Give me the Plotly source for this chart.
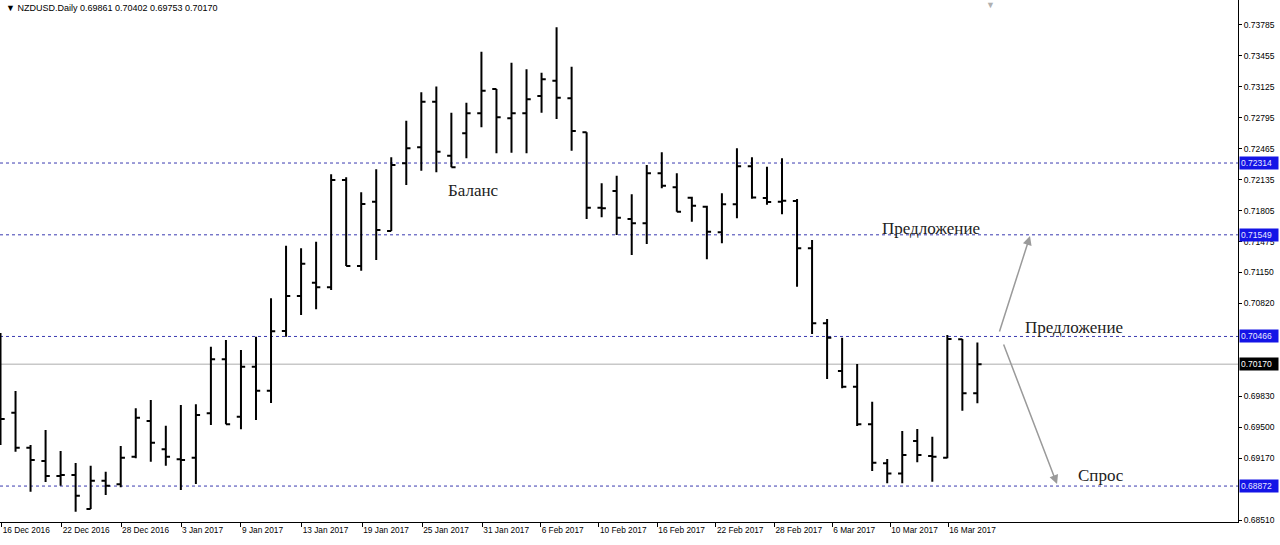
import plotly.graph_objects as go

# ---------------- data ----------------
opens = [0.70380, 0.69653, 0.69280, 0.69139, 0.68979, 0.68989, 0.68627, 0.68929, 0.68890, 0.69184,
         0.69565, 0.69263, 0.69157, 0.69174, 0.69647, 0.70222, 0.69611, 0.70144, 0.69888, 0.70524,
         0.70897, 0.71039, 0.70990, 0.72133, 0.71217, 0.71902, 0.71590, 0.72311, 0.72482, 0.72968,
         0.72392, 0.72631, 0.72844, 0.73103, 0.72791, 0.72844, 0.73028, 0.73191, 0.73004, 0.72642,
         0.71838, 0.72016, 0.71718, 0.71672, 0.72205, 0.72055, 0.71945, 0.71849, 0.71576, 0.71874,
         0.72279, 0.71941, 0.71900, 0.71909, 0.71405, 0.70606, 0.70098, 0.69930, 0.69530, 0.69114,
         0.69007, 0.69352, 0.69192, 0.69174, 0.70436, 0.69861]
highs = [0.70503, 0.69885, 0.69309, 0.69469, 0.69245, 0.69117, 0.69088, 0.69025, 0.69298, 0.69700,
         0.69789, 0.69515, 0.69735, 0.69743, 0.70357, 0.70428, 0.70321, 0.70463, 0.70872, 0.71433,
         0.71405, 0.71476, 0.72194, 0.72162, 0.72002, 0.72247, 0.72375, 0.72765, 0.73068, 0.73128,
         0.72850, 0.72957, 0.73500, 0.73103, 0.73383, 0.73313, 0.73277, 0.73761, 0.73341, 0.72642,
         0.72098, 0.72179, 0.71981, 0.72293, 0.72428, 0.72205, 0.71955, 0.71859, 0.71991, 0.72471,
         0.72375, 0.72275, 0.72364, 0.71931, 0.71494, 0.70652, 0.70453, 0.70172, 0.69771, 0.69160,
         0.69458, 0.69480, 0.69398, 0.70481, 0.70439, 0.70402]
lows = [0.69309, 0.69238, 0.68811, 0.68915, 0.68875, 0.68598, 0.68627, 0.68776, 0.68858, 0.69167,
        0.69131, 0.69088, 0.68830, 0.68893, 0.69522, 0.69530, 0.69476, 0.69576, 0.69757, 0.70463,
        0.70695, 0.70755, 0.70961, 0.71217, 0.71167, 0.71281, 0.71590, 0.72080, 0.72232, 0.72215,
        0.72269, 0.72364, 0.72695, 0.72418, 0.72424, 0.72418, 0.72850, 0.72783, 0.72445, 0.71718,
        0.71736, 0.71547, 0.71334, 0.71451, 0.72045, 0.71795, 0.71689, 0.71288, 0.71459, 0.71725,
        0.71934, 0.71870, 0.71768, 0.70996, 0.70492, 0.70012, 0.69913, 0.69512, 0.69032, 0.68901,
        0.68901, 0.69125, 0.68918, 0.69167, 0.69675, 0.69753]
closes = [0.69586, 0.69280, 0.69149, 0.68979, 0.68989, 0.68769, 0.68929, 0.68875, 0.69174, 0.69600,
          0.69334, 0.69184, 0.69150, 0.69629, 0.70222, 0.69530, 0.70144, 0.69888, 0.70521, 0.70897,
          0.71241, 0.70990, 0.72133, 0.71217, 0.71877, 0.71600, 0.72293, 0.72471, 0.72968, 0.72435,
          0.72269, 0.72844, 0.73085, 0.72801, 0.72844, 0.72993, 0.73206, 0.73010, 0.72655, 0.71838,
          0.71832, 0.71731, 0.71672, 0.72205, 0.72072, 0.71795, 0.71859, 0.71582, 0.71874, 0.72279,
          0.71947, 0.71899, 0.71912, 0.71405, 0.70606, 0.70453, 0.69930, 0.69530, 0.69120, 0.69007,
          0.69203, 0.69203, 0.69184, 0.70439, 0.69861, 0.70170]

date_labels = ["16 Dec 2016", "22 Dec 2016", "28 Dec 2016", "3 Jan 2017", "9 Jan 2017",
               "13 Jan 2017", "19 Jan 2017", "25 Jan 2017", "31 Jan 2017", "6 Feb 2017",
               "10 Feb 2017", "16 Feb 2017", "22 Feb 2017", "28 Feb 2017", "6 Mar 2017",
               "10 Mar 2017", "16 Mar 2017"]
date_label_bar = [0.08, 4.07, 8.02, 12.01, 16.0, 20.04, 24.07, 28.06, 32.06, 35.94,
                  39.82, 43.7, 47.6, 51.5, 55.34, 59.2, 63.06]

price_ticks = [0.73785, 0.73455, 0.73125, 0.72795, 0.72465, 0.72135, 0.71805, 0.71475,
               0.71150, 0.70820, 0.69830, 0.69500, 0.69170, 0.68510]
level_lines = [0.72314, 0.71549, 0.70466, 0.68872]
last_price = 0.70170
title_text = "NZDUSD.Daily 0.69861 0.70402 0.69753 0.70170"

bars = list(range(len(opens)))

fig = go.Figure()
fig.add_trace(go.Ohlc(
    x=bars, open=opens, high=highs, low=lows, close=closes,
    increasing=dict(line=dict(color="black", width=2)),
    decreasing=dict(line=dict(color="black", width=2)),
    tickwidth=0.28, showlegend=False, hoverinfo="skip"))

shapes = []
for lv in level_lines:
    shapes.append(dict(type="line", xref="paper", x0=0, x1=1, yref="y", y0=lv, y1=lv,
                       line=dict(color="#3a3ab0", width=1, dash="3px,3px"), layer="below"))
shapes.append(dict(type="line", xref="paper", x0=0, x1=1, yref="y", y0=last_price, y1=last_price,
                   line=dict(color="#c8c8c8", width=1.5), layer="below"))

annotations = []
for lv in level_lines:
    annotations.append(dict(xref="paper", x=1, xanchor="left", xshift=1, yref="y", y=lv,
                            text=f"{lv:.5f}", showarrow=False, bgcolor="#1414e6",
                            font=dict(family="Liberation Sans", size=8.5, color="#e8e8ff"),
                            borderpad=1, width=36, align="left"))
annotations.append(dict(xref="paper", x=1, xanchor="left", xshift=1, yref="y", y=last_price,
                        text=f"{last_price:.5f}", showarrow=False, bgcolor="#000000",
                        font=dict(family="Liberation Sans", size=8.5, color="white"),
                        borderpad=1, width=36, align="left"))

serif = dict(family="Liberation Serif", size=17, color="#222222")
annotations += [
    dict(x=31.5, y=0.72016, text="Баланс", showarrow=False, font=serif),
    dict(x=61.9, y=0.71615, text="Предложение", showarrow=False, font=serif),
    dict(x=71.4, y=0.70560, text="Предложение", showarrow=False, font=serif),
    dict(x=73.2, y=0.68980, text="Спрос", showarrow=False, font=serif),
    dict(x=68.5, y=0.71536, ax=-31, ay=97, text="", showarrow=True, arrowhead=2,
         arrowsize=1.2, arrowwidth=1.5, arrowcolor="#9a9a9a"),
    dict(x=70.3, y=0.68893, ax=-54, ay=-141, text="", showarrow=True, arrowhead=2,
         arrowsize=1.2, arrowwidth=1.5, arrowcolor="#9a9a9a"),
    dict(xref="paper", yref="paper", x=0.003, y=0.998, xanchor="left", yanchor="top",
         text="▼ " + title_text, showarrow=False,
         font=dict(family="Liberation Sans", size=9, color="black")),
    dict(xref="paper", yref="paper", x=0.8, y=1.0, xanchor="center", yanchor="top",
         yshift=4, text="▼", showarrow=False, font=dict(size=9, color="#b0b0b0")),
]

fig.update_layout(
    width=1280, height=545,
    margin=dict(l=0, r=42, t=0, b=23, autoexpand=False),
    paper_bgcolor="white", plot_bgcolor="white",
    shapes=shapes, annotations=annotations,
    xaxis=dict(range=[-0.033, 82.34], rangeslider=dict(visible=False),
               tickvals=date_label_bar, ticktext=date_labels, tickangle=0,
               ticks="outside", ticklen=4, tickcolor="black",
               ticklabelposition="outside right", automargin=False,
               tickfont=dict(family="Liberation Sans", size=8.3, color="black"),
               showgrid=False, zeroline=False, showline=True, linecolor="black",
               linewidth=1, mirror=True),
    yaxis=dict(side="right", range=[0.68489, 0.74051], automargin=False,
               tickvals=price_ticks, ticktext=[f"{v:.5f}" for v in price_ticks],
               ticks="outside", ticklen=3, tickcolor="black",
               tickfont=dict(family="Liberation Sans", size=8.5, color="black"),
               showgrid=False, zeroline=False, showline=True, linecolor="black",
               linewidth=1, mirror=True),
)

fig.write_html("out.html", config={"displayModeBar": False},
               post_script="document.body.style.margin='0px';document.body.style.overflow='hidden';")
